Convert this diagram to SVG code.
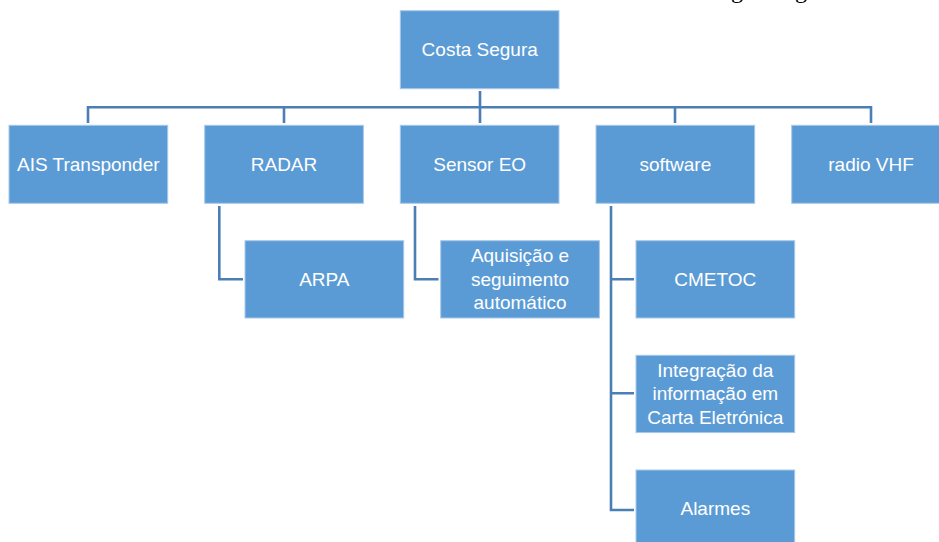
<svg xmlns="http://www.w3.org/2000/svg" width="939" height="542" viewBox="0 0 939 542">
<style>
.box{fill:#5B9BD5;stroke:#A9C9EA;stroke-width:1}
.lbl{font-family:"Liberation Sans",Arial,sans-serif;font-size:19px;fill:#ffffff;text-anchor:middle}
.conn{fill:none;stroke:#4A7EB5;stroke-width:2.6}
.cut{font-family:"Liberation Serif","Times New Roman",serif;font-size:24px;fill:#000000}
</style>
<rect width="939" height="542" fill="#ffffff"/>
<text class="cut" x="731" y="-2.5">g</text>
<text class="cut" x="795" y="-2.5">g</text>
<g id="connectors">
<path class="conn" d="M480 91 V123 M88 123 V107.3 H871 V123 M284 107.3 V123 M675 107.3 V123"/>
<path class="conn" d="M219.3 206 V279.3 H243"/>
<path class="conn" d="M415 206 V279.3 H438.5"/>
<path class="conn" d="M611 206 V510 H634 M611 279.3 H634 M611 393.3 H634"/>
</g>
<g id="costa-segura"><rect class="box" x="400.3" y="10.7" width="158.7" height="78"/><text class="lbl" x="479.7" y="56">Costa Segura</text></g>
<g id="ais"><rect class="box" x="9" y="125.3" width="158.7" height="78"/><text class="lbl" x="88.3" y="171">AIS Transponder</text></g>
<g id="radar"><rect class="box" x="204.7" y="125.3" width="158.7" height="78"/><text class="lbl" x="284" y="171">RADAR</text></g>
<g id="sensor-eo"><rect class="box" x="400.3" y="125.3" width="158.7" height="78"/><text class="lbl" x="479.7" y="171">Sensor EO</text></g>
<g id="software"><rect class="box" x="596" y="125.3" width="158.7" height="78"/><text class="lbl" x="675.3" y="171">software</text></g>
<g id="radio-vhf"><rect class="box" x="791.7" y="125.3" width="158.7" height="78"/><text class="lbl" x="871" y="171">radio VHF</text></g>
<g id="arpa"><rect class="box" x="245" y="240.7" width="158.7" height="77.3"/><text class="lbl" x="324.3" y="285.7">ARPA</text></g>
<g id="aquisicao"><rect class="box" x="440.7" y="240.7" width="158.7" height="77.3"/><text class="lbl" x="520" y="262.3">Aquisição e</text><text class="lbl" x="520" y="285.6">seguimento</text><text class="lbl" x="520" y="308.5">automático</text></g>
<g id="cmetoc"><rect class="box" x="636" y="240.7" width="158.7" height="77.3"/><text class="lbl" x="715.3" y="285.7">CMETOC</text></g>
<g id="integracao"><rect class="box" x="636" y="355.3" width="158.7" height="77.3"/><text class="lbl" x="715.3" y="377">Integração da</text><text class="lbl" x="715.3" y="400.3">informação em</text><text class="lbl" x="715.3" y="423.5">Carta Eletrónica</text></g>
<g id="alarmes"><rect class="box" x="636" y="470" width="158.7" height="78"/><text class="lbl" x="715.3" y="515">Alarmes</text></g>
</svg>
